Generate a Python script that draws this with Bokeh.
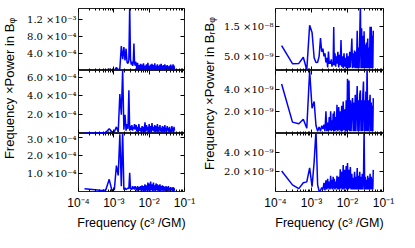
from bokeh.plotting import figure
from bokeh.layouts import row, column
from bokeh.models import Range1d, FixedTicker, LogAxis, LinearAxis, Label
from bokeh.embed import file_html
from bokeh.resources import INLINE

# ---------------- data ----------------
freq = [1.48e-4, 2.96e-4, 4.44e-4, 5.92e-4, 7.40e-4, 8.88e-4, 1.036e-3, 1.184e-3, 1.332e-3, 1.48e-3,
        1.628e-3, 1.776e-3, 1.924e-3, 2.072e-3, 2.22e-3, 2.368e-3, 2.516e-3, 2.664e-3, 2.812e-3, 2.96e-3,
        3.108e-3, 3.256e-3, 3.404e-3, 3.552e-3, 3.70e-3, 3.848e-3, 3.996e-3, 4.144e-3,
        4.3e-3, 4.5e-3, 4.7e-3, 4.9e-3, 5.1e-3, 5.4e-3, 5.7e-3, 6.0e-3, 6.3e-3, 6.6e-3,
        6.9e-3, 7.2e-3, 7.6e-3, 8.0e-3, 8.4e-3, 8.8e-3, 9.2e-3, 9.6e-3, 1.0e-2, 1.05e-2,
        1.1e-2, 1.15e-2, 1.2e-2, 1.26e-2, 1.32e-2, 1.38e-2, 1.44e-2, 1.5e-2, 1.57e-2, 1.64e-2,
        1.71e-2, 1.78e-2, 1.86e-2, 1.94e-2, 2.02e-2, 2.1e-2, 2.19e-2, 2.28e-2, 2.37e-2, 2.47e-2,
        2.57e-2, 2.67e-2, 2.78e-2, 2.89e-2, 3.0e-2, 3.12e-2, 3.24e-2, 3.37e-2, 3.5e-2, 3.64e-2,
        3.78e-2, 3.93e-2, 4.08e-2, 4.24e-2, 4.4e-2, 4.57e-2, 4.74e-2, 4.92e-2, 5.05e-2, 5.2e-2]

# Frequency x Power in B_phi (three panels, top to bottom)
bphi_1 = [1.5e-5, 1.6e-5, 1.8e-5, 2.5e-5, 4.5e-5, 2.5e-5, 1.8e-5, 8.5e-5, 2.5e-5, 6e-5,
          5.8e-4, 2.8e-4, 5.6e-4, 2.5e-4, 5.2e-4, 2.0e-4, 1.8e-4, 2.5e-4, 1.5e-3, 2.8e-4,
          1.5e-4, 2.2e-4, 1.2e-4, 2.0e-4, 6.4e-4, 2.0e-4, 1.3e-4, 2.2e-4,
          1.6e-4, 3e-5, 1.9e-4, 4e-5, 1.4e-4, 2e-5, 1.7e-4, 5e-5, 1.5e-4, 3e-5,
          1.8e-4, 2e-5, 1.3e-4, 4e-5, 1.6e-4, 3e-5, 1.9e-4, 2e-5, 1.2e-4, 5e-5,
          1.5e-4, 2e-5, 1.7e-4, 3e-5, 1.4e-4, 4e-5, 1.8e-4, 2e-5, 1.3e-4, 3e-5,
          1.6e-4, 5e-5, 1.2e-4, 2e-5, 1.5e-4, 3e-5, 1.7e-4, 4e-5, 1.3e-4, 2e-5,
          1.4e-4, 3e-5, 1.6e-4, 5e-5, 1.2e-4, 2e-5, 1.4e-4, 4e-5, 1.1e-4, 3e-5,
          1.3e-4, 2e-5, 1.5e-4, 4e-5, 1.2e-4, 3e-5, 1.6e-4, 2e-5, 1.3e-4, 5e-5]
bphi_2 = [5e-6, 5e-6, 8e-6, 1e-5, 5e-5, 1.5e-5, 2e-5, 7e-5, 1.5e-5, 4.2e-4,
          2.0e-4, 6.8e-4, 4e-5, 2.0e-4, 3e-5, 1.0e-4, 5e-5, 4.6e-4, 3e-5, 8e-5,
          4e-5, 9e-5, 3e-5, 7e-5, 5e-5, 1.0e-4, 4e-5, 8e-5,
          9e-5, 2e-5, 7e-5, 1e-5, 1.0e-4, 3e-5, 6e-5, 1e-5, 8e-5, 2e-5,
          7e-5, 1e-5, 1.2e-4, 2e-5, 9e-5, 3e-5, 7e-5, 1e-5, 1.0e-4, 2e-5,
          8e-5, 1e-5, 1.1e-4, 3e-5, 7e-5, 2e-5, 9e-5, 1e-5, 8e-5, 2e-5,
          1.0e-4, 1e-5, 7e-5, 3e-5, 9e-5, 2e-5, 6e-5, 1e-5, 8e-5, 2e-5,
          7e-5, 1e-5, 9e-5, 2e-5, 6e-5, 1e-5, 8e-5, 3e-5, 6e-5, 1e-5,
          7e-5, 2e-5, 5e-5, 1e-5, 8e-5, 2e-5, 6e-5, 1e-5, 7e-5, 3e-5]
bphi_3 = [1.6e-5, 1.0e-5, 5e-6, 8e-6, 6.8e-5, 3e-6, 1.2e-5, 1.45e-4, 9e-5, 3.2e-4,
          3e-5, 3.4e-4, 1e-5, 2e-5, 1e-5, 1.5e-5, 2e-5, 1.5e-5, 1.05e-4, 1.5e-5,
          2e-5, 1e-5, 3e-5, 1.5e-5, 2.5e-5, 1e-5, 3e-5, 2e-5,
          2e-5, 5e-6, 3e-5, 2e-6, 2.5e-5, 8e-6, 3e-5, 3e-6, 3.5e-5, 5e-6,
          3e-5, 2e-6, 4e-5, 8e-6, 3.5e-5, 3e-6, 5e-5, 5e-6, 4.5e-5, 2e-6,
          5.5e-5, 8e-6, 4e-5, 3e-6, 5e-5, 5e-6, 3.5e-5, 2e-6, 4.5e-5, 8e-6,
          4e-5, 3e-6, 3.5e-5, 5e-6, 4e-5, 2e-6, 3e-5, 6e-6, 3.5e-5, 3e-6,
          3e-5, 5e-6, 2.5e-5, 2e-6, 3e-5, 6e-6, 2.5e-5, 3e-6, 3e-5, 5e-6,
          2e-5, 2e-6, 2.5e-5, 6e-6, 2e-5, 3e-6, 2.5e-5, 5e-6, 2e-5, 4e-6]

# Frequency x Power in B_r B_phi (three panels, top to bottom)
brbphi_1 = [8.6e-9, 2.5e-9, 2.6e-9, 4.7e-9, 4e-10, 1.55e-8, 1.31e-8, 4.5e-9, 2.9e-9, 3.0e-9,
            5.0e-9, 1.12e-8, 6.6e-9, 7.6e-9, 5.0e-9, 6.0e-9, 2.9e-9, 4.5e-9, 1.2e-9, 6.6e-9,
            2.5e-9, 3.4e-9, 2.5e-9, 4e-9, 1.5e-9, 3e-9, 2e-9, 1.49e-8,
            2.0e-9, 6.0e-9, 1.5e-9, 5.0e-9, 2.5e-9, 6.5e-9, 1.2e-9, 5.5e-9, 2.0e-9, 1.05e-8,
            1.5e-9, 5.0e-9, 1.0e-9, 6.0e-9, 1.5e-9, 4.5e-9, 1.0e-9, 6.0e-9, 1.2e-9, 5.0e-9,
            1.0e-9, 6.5e-9, 1.2e-9, 5.5e-9, 1.1e-8, 1.0e-9, 6.0e-9, 1.2e-9, 7.0e-9, 1.0e-9,
            6.5e-9, 1.0e-9, 1.37e-8, 1.0e-9, 8.0e-9, 1.0e-9, 1.2e-8, 2.3e-8, 1.0e-9, 1.45e-8,
            1.0e-9, 1.2e-8, 1.0e-9, 1.35e-8, 1.0e-9, 9.0e-9, 1.0e-9, 9.7e-9, 1.0e-9, 1.1e-8,
            1.0e-9, 8.0e-9, 1.0e-9, 1.5e-8, 1.0e-9, 1.5e-8, 1.0e-9, 1.2e-8, 1.0e-9, 1.37e-8]
brbphi_2 = [4.48e-9, 1.03e-9, 8.8e-10, 1.29e-9, 4.7e-10, 5.67e-9, 2.28e-9, 2.9e-9, 7.2e-10, 2e-10,
            6e-10, 2e-10, 7e-10, 4e-10, 8e-10, 2e-10, 2.0e-9, 2e-10, 1.0e-9, 2e-10,
            1.5e-9, 3e-10, 2.0e-9, 2e-10, 1.2e-9, 3e-10, 1.8e-9, 2e-10,
            2.0e-9, 2e-10, 1.5e-9, 3e-10, 2.6e-9, 2e-10, 2.4e-9, 3e-10, 2.0e-9, 2e-10,
            2.5e-9, 2e-10, 2.9e-9, 3e-10, 2.2e-9, 2e-10, 3.0e-9, 2e-10, 4.95e-9, 3e-10,
            4.8e-9, 2e-10, 3.0e-9, 2e-10, 2.5e-9, 3.2e-9, 2e-10, 2.8e-9, 2e-10, 3.5e-9,
            2e-10, 2.5e-9, 4.3e-9, 2e-10, 3.0e-9, 2e-10, 3.5e-9, 3.9e-9, 2e-10, 3.0e-9,
            2e-10, 3.5e-9, 4.7e-9, 2e-10, 3.0e-9, 2e-10, 3.8e-9, 2e-10, 6.5e-9, 2e-10,
            3.0e-9, 2e-10, 2.5e-9, 3.5e-9, 2e-10, 2.8e-9, 2e-10, 2.5e-9, 2e-10, 3.2e-9]
brbphi_3 = [2.09e-9, 6.7e-10, 2.9e-10, 8.9e-10, 9.8e-10, 2.41e-9, 5e-10, 3.0e-9, 6.2e-9, 6.7e-10,
            5e-11, 1e-10, 4e-10, 2e-10, 8.9e-10, 1e-10, 1.14e-9, 2e-10, 1.3e-9, 3e-10,
            1.0e-9, 2e-10, 1.6e-9, 3e-10, 1.2e-9, 2e-10, 1.5e-9, 3e-10,
            1.3e-9, 2e-10, 1.0e-9, 3e-10, 1.6e-9, 2e-10, 1.5e-9, 2e-10, 2.25e-9, 3e-10,
            2.0e-9, 2e-10, 2.7e-9, 2e-10, 2.2e-9, 3e-10, 2.6e-9, 2e-10, 2.9e-9, 2e-10,
            2.2e-9, 3e-10, 2.5e-9, 2e-10, 1.8e-9, 2e-10, 1.4e-9, 2e-10, 2.0e-9, 2e-10,
            1.5e-9, 2e-10, 2.4e-9, 2e-10, 1.6e-9, 2e-10, 2.0e-9, 2e-10, 1.5e-9, 2e-10,
            1.8e-9, 2e-10, 1.3e-9, 6.5e-9, 2e-10, 1.5e-9, 2e-10, 1.2e-9, 2e-10, 1.6e-9,
            2e-10, 1.4e-9, 2e-10, 1.8e-9, 2e-10, 1.5e-9, 2e-10, 1.3e-9, 2e-10, 2.2e-9]

# axis limits and ticks
x_limits = (1e-4, 1e-1)
x_ticks = [1e-4, 1e-3, 1e-2, 1e-1]
x_tick_labels = ["10⁻⁴", "10⁻³", "10⁻²", "10⁻¹"]
x_minor_ticks = [m * d for d in (1e-4, 1e-3, 1e-2) for m in range(2, 10)]

left_limits = [(1.5e-5, 1.45e-3), (0.0, 6.7e-4), (0.0, 3.24e-4)]
left_ticks = [[4e-4, 8e-4, 1.2e-3], [2e-4, 4e-4, 6e-4], [1e-4, 2e-4, 3e-4]]
left_tick_labels = [["4.0 ×10⁻⁴", "8.0 ×10⁻⁴", "1.2 ×10⁻³"],
                    ["2.0 ×10⁻⁴", "4.0 ×10⁻⁴", "6.0 ×10⁻⁴"],
                    ["1.0 ×10⁻⁴", "2.0 ×10⁻⁴", "3.0 ×10⁻⁴"]]
right_limits = [(2e-10, 2.12e-8), (0.0, 5.7e-9), (0.0, 5.9e-9)]
right_ticks = [[5e-9, 1.5e-8], [2e-9, 4e-9], [2e-9, 4e-9]]
right_tick_labels = [["5.0 ×10⁻⁹", "1.5 ×10⁻⁸"],
                     ["2.0 ×10⁻⁹", "4.0 ×10⁻⁹"],
                     ["2.0 ×10⁻⁹", "4.0 ×10⁻⁹"]]

x_title = "Frequency (c³ /GM)"
left_title = "Frequency ×Power in Bᵩ"
right_title = "Frequency ×Power in BᵣBᵩ"

SANS = "Liberation Sans"
SERIF = "DejaVu Serif"
FRAME_W = 114
FRAME_H = [62, 63, 62]
TOP_B = 8
BOT_B = 37


def tick_style(ax):
    ax.axis_line_color = None
    ax.major_tick_in = 4
    ax.major_tick_out = 0
    ax.minor_tick_in = 2
    ax.minor_tick_out = 0
    ax.major_tick_line_color = "black"
    ax.minor_tick_line_color = "black"
    ax.major_label_text_color = "black"
    ax.axis_label_text_color = "black"


def hide_labels(ax, ticks):
    ax.major_label_overrides = {t: "" for t in ticks}
    ax.major_label_text_font_size = "0px"
    ax.major_label_standoff = 0


def panel(series, ylim, yticks, ylabels, idx, bl, br):
    first, last = idx == 0, idx == 2
    h = FRAME_H[idx] + (TOP_B if first else 0) + (BOT_B if last else 0)
    p = figure(width=bl + FRAME_W + br, height=h, x_axis_type="log",
               x_range=Range1d(*x_limits), y_range=Range1d(*ylim),
               x_axis_location=None, y_axis_location=None,
               output_backend="svg", toolbar_location=None)
    p.min_border_left = bl
    p.min_border_right = br
    p.min_border_top = TOP_B if first else 0
    p.min_border_bottom = BOT_B if last else 0
    p.grid.visible = False
    p.outline_line_color = "#222222"
    p.outline_line_width = 1
    p.background_fill_color = "white"
    p.border_fill_color = "white"
    p.line(freq, series, line_color="#0000ff", line_width=1.5)

    # x axes (bottom + top), ticks pointing inwards
    below = LogAxis(ticker=FixedTicker(ticks=x_ticks, minor_ticks=x_minor_ticks))
    tick_style(below)
    if last:
        below.major_label_overrides = dict(zip(x_ticks, x_tick_labels))
        below.major_label_text_font = SANS
        below.major_label_text_font_size = "12px"
        below.major_label_standoff = 4
        below.axis_label = x_title
        below.axis_label_text_font = SANS
        below.axis_label_text_font_size = "12.5px"
        below.axis_label_text_font_style = "normal"
        below.axis_label_standoff = 3
    else:
        hide_labels(below, x_ticks)
    p.add_layout(below, "below")
    above = LogAxis(ticker=FixedTicker(ticks=x_ticks, minor_ticks=x_minor_ticks))
    tick_style(above)
    hide_labels(above, x_ticks)
    p.add_layout(above, "above")

    # y axes (left with labels, right without)
    left = LinearAxis(ticker=FixedTicker(ticks=yticks))
    tick_style(left)
    left.major_label_overrides = dict(zip(yticks, ylabels))
    left.major_label_text_font = SERIF
    left.major_label_text_font_size = "10px"
    left.major_label_standoff = 2
    p.add_layout(left, "left")
    right = LinearAxis(ticker=FixedTicker(ticks=yticks))
    tick_style(right)
    hide_labels(right, yticks)
    p.add_layout(right, "right")
    return p


def title_fig(text, w, cx, cy):
    f = figure(width=w, height=sum(FRAME_H) + TOP_B + BOT_B,
               x_range=Range1d(0, 1), y_range=Range1d(0, 1),
               x_axis_location=None, y_axis_location=None,
               output_backend="svg", toolbar_location=None)
    f.min_border = 0
    f.grid.visible = False
    f.outline_line_color = None
    f.border_fill_color = "white"
    f.add_layout(Label(x=cx, y=cy, x_units="screen", y_units="screen", text=text,
                       angle=90, angle_units="deg", text_align="center",
                       text_baseline="middle", text_font=SANS, text_font_size="13px",
                       text_color="black"))
    return f


left_series = [bphi_1, bphi_2, bphi_3]
right_series = [brbphi_1, brbphi_2, brbphi_3]

col_left = column([panel(left_series[i], left_limits[i], left_ticks[i], left_tick_labels[i], i, 46, 13)
                   for i in range(3)])
col_right = column([panel(right_series[i], right_limits[i], right_ticks[i], right_tick_labels[i], i, 48, 16)
                    for i in range(3)])

layout = row(title_fig(left_title, 24, 9, 144), col_left,
             title_fig(right_title, 24, 12, 139), col_right)

open("out.html", "w").write(file_html(layout, INLINE))
